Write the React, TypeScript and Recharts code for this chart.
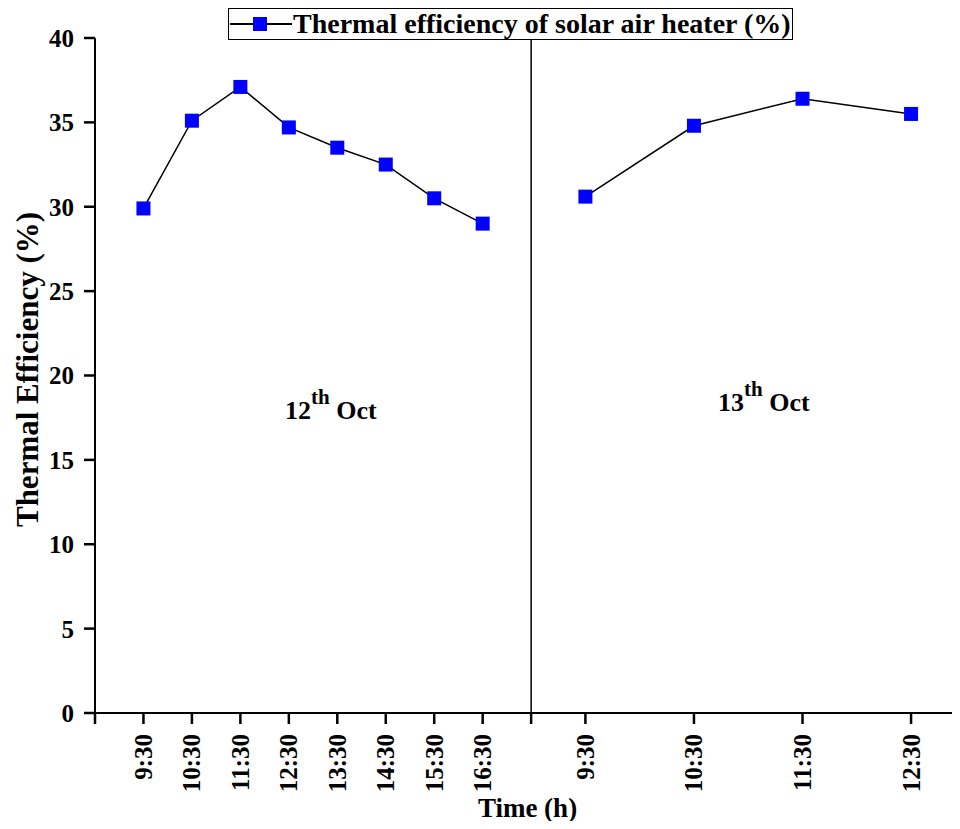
import React from 'react';
import {
  LineChart,
  Line,
  XAxis,
  YAxis,
  ReferenceLine,
  Legend,
} from 'recharts';

// Hourly readings on the two test days
const oct12Times = ['9:30', '10:30', '11:30', '12:30', '13:30', '14:30', '15:30', '16:30'];
const oct12Efficiency = [29.9, 35.1, 37.1, 34.7, 33.5, 32.5, 30.5, 29.0];
const oct13Times = ['9:30', '10:30', '11:30', '12:30'];
const oct13Efficiency = [30.6, 34.8, 36.4, 35.5];
const yTicks = [0, 5, 10, 15, 20, 25, 30, 35, 40];

const SERIES_NAME = 'Thermal efficiency of solar air heater (%)';
const FONT = '"Liberation Serif", "Times New Roman", serif';

// Day one uses unit spacing; day two is stretched to fill the right panel.
const DAY_SPLIT = 8;
const DAY2_STEP = 2.24;

type Row = { pos: number; eff: number | null; label: string };

const rows: Row[] = [
  ...oct12Times.map((t, i) => ({ pos: i, eff: oct12Efficiency[i], label: t })),
  { pos: DAY_SPLIT, eff: null, label: '' },
  ...oct13Times.map((t, j) => ({
    pos: DAY_SPLIT + (j + 0.5) * DAY2_STEP,
    eff: oct13Efficiency[j],
    label: t,
  })),
];

const xTicks = [-1, ...rows.map((r) => r.pos)];
const labelByPos = new Map(rows.map((r) => [r.pos, r.label]));

const SquareDot = (props: any) => {
  const { cx, cy, index, value } = props;
  if (value == null || cx == null || cy == null) return <g key={`d${index}`} />;
  return <rect key={`d${index}`} x={cx - 7} y={cy - 7} width={14} height={14} fill="#0000FF" />;
};

const XTick = (props: any) => {
  const { x, y, payload } = props;
  const text = labelByPos.get(payload.value) ?? '';
  if (!text) return <g />;
  return (
    <text
      transform={`translate(${x},${y + 8}) rotate(-90)`}
      textAnchor="end"
      dominantBaseline="central"
      fontFamily={FONT}
      fontWeight="bold"
      fontSize={25}
      fill="#000"
    >
      {text}
    </text>
  );
};

const YTitle = (props: any) => {
  const { viewBox } = props;
  const cy = viewBox.y + viewBox.height / 2 - 6;
  return (
    <text
      transform={`translate(38,${cy}) rotate(-90)`}
      textAnchor="middle"
      fontFamily={FONT}
      fontWeight="bold"
      fontSize={31}
      fill="#000"
    >
      Thermal Efficiency (%)
    </text>
  );
};

const LegendBox = () => (
  <div
    style={{
      display: 'inline-flex',
      alignItems: 'center',
      border: '1px solid #000',
      height: 32,
      padding: '0 1px 0 0',
      background: '#fff',
      boxSizing: 'border-box',
    }}
  >
    <svg width={64} height={20}>
      <line x1={1} y1={10} x2={63} y2={10} stroke="#000" strokeWidth={2} />
      <rect x={24} y={3} width={14} height={14} fill="#0000FF" />
    </svg>
    <span
      style={{
        fontFamily: FONT,
        fontWeight: 'bold',
        fontSize: 28,
        lineHeight: '30px',
        color: '#000',
        whiteSpace: 'nowrap',
      }}
    >
      {SERIES_NAME}
    </span>
  </div>
);

const dayLabel = (day: string, left: number, top: number) => (
  <div
    style={{
      position: 'absolute',
      left,
      top,
      fontFamily: FONT,
      fontWeight: 'bold',
      fontSize: 26,
      color: '#000',
      whiteSpace: 'nowrap',
    }}
  >
    {day}
    <sup style={{ fontSize: 21, verticalAlign: 'baseline', position: 'relative', top: -15 }}>th</sup>
    {' Oct'}
  </div>
);

export default function App() {
  return (
    <div style={{ position: 'relative', margin: -8, width: 960, height: 829, background: '#fff' }}>
      <LineChart
        width={960}
        height={829}
        data={rows}
        margin={{ top: 6, right: 0, bottom: 0, left: 0 }}
      >
        <Legend
          verticalAlign="top"
          content={() => <LegendBox />}
          wrapperStyle={{ left: 228, top: 8, width: 'auto', height: 32 }}
        />
        <XAxis
          dataKey="pos"
          type="number"
          domain={[-1, 16.85]}
          allowDataOverflow
          ticks={xTicks}
          interval={0}
          tick={<XTick />}
          tickSize={11}
          height={116}
          stroke="#000"
          strokeWidth={2}
          tickLine={{ stroke: '#000', strokeWidth: 2.5 }}
          label={{
            value: 'Time (h)',
            position: 'insideBottom',
            offset: 12,
            style: { fontFamily: FONT, fontWeight: 'bold', fontSize: 27, fill: '#000' },
          }}
        />
        <YAxis
          type="number"
          domain={[0, 40]}
          ticks={yTicks}
          interval={0}
          width={95}
          tickSize={11}
          tickMargin={10}
          stroke="#000"
          strokeWidth={2}
          tickLine={{ stroke: '#000', strokeWidth: 2.5 }}
          tick={{ fontFamily: FONT, fontWeight: 'bold', fontSize: 25, fill: '#000' }}
          label={<YTitle />}
        />
        <ReferenceLine x={DAY_SPLIT} stroke="#000" strokeWidth={1.5} />
        <Line
          name={SERIES_NAME}
          dataKey="eff"
          stroke="#000"
          strokeWidth={1.5}
          dot={<SquareDot />}
          activeDot={false}
          connectNulls={false}
          isAnimationActive={false}
        />
      </LineChart>
      {dayLabel('12', 285, 396)}
      {dayLabel('13', 718, 388)}
    </div>
  );
}
